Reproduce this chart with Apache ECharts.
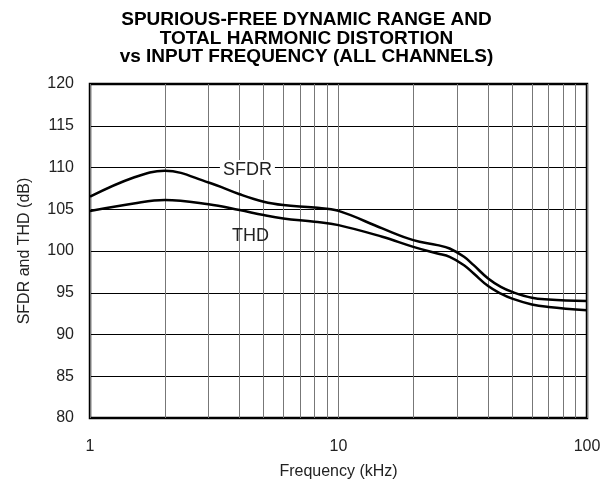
<!DOCTYPE html>
<html>
<head>
<meta charset="utf-8">
<script src="https://cdn.jsdelivr.net/npm/echarts@6/dist/echarts.min.js"></script>
<style>
  html, body { margin: 0; padding: 0; background: #fff; }
  #chart { width: 613px; height: 485px; }
</style>
</head>
<body>
<div id="chart"></div>
<script>
// frequency points (kHz)
const freq = [1, 1.5, 2, 3, 4, 5, 6, 8, 10, 15, 20, 25, 28, 32, 35, 40, 45, 50, 60, 70, 100];
const sfdr = [106.5, 108.8, 109.6, 108.2, 106.8, 105.9, 105.5, 105.2, 104.8, 102.7, 101.3, 100.7, 100.3, 99.3, 98.3, 96.7, 95.7, 95.1, 94.4, 94.2, 94.0];
const thd = [104.8, 105.7, 106.1, 105.6, 104.9, 104.3, 103.9, 103.5, 103.1, 101.7, 100.5, 99.7, 99.3, 98.3, 97.3, 95.8, 94.9, 94.3, 93.6, 93.3, 92.9];
// log-decade minor gridlines
const minorGrid = [2, 3, 4, 5, 6, 7, 8, 9, 20, 30, 40, 50, 60, 70, 80, 90];
const titleLines = ['SPURIOUS-FREE DYNAMIC RANGE AND', 'TOTAL HARMONIC DISTORTION', 'vs INPUT FREQUENCY (ALL CHANNELS)'];

const font = 'Liberation Sans, Arial, Helvetica, sans-serif';
const chart = echarts.init(document.getElementById('chart'));

const pairs = (ys) => freq.map((f, i) => [f, ys[i]]);

chart.setOption({
  animation: false,
  title: {
    text: titleLines.join('\n'),
    left: 'center',
    top: 6,
    textStyle: {
      fontFamily: font,
      fontSize: 19,
      fontWeight: 'bold',
      lineHeight: 18.5,
      color: '#000',
    },
  },
  grid: {
    left: 90,
    right: 26,
    top: 84,
    bottom: 66,
    show: true,
    borderColor: '#000',
    borderWidth: 2.5,
    backgroundColor: 'transparent',
  },
  xAxis: {
    type: 'log',
    logBase: 10,
    min: 1,
    max: 100,
    name: 'Frequency (kHz)',
    nameLocation: 'middle',
    nameGap: 46,
    nameTextStyle: { fontFamily: font, fontSize: 16, color: '#222' },
    axisLine: { show: false },
    axisTick: { show: false },
    axisLabel: { fontFamily: font, fontSize: 16, color: '#222', margin: 21 },
    splitLine: { show: true, lineStyle: { color: '#777', width: 1 } },
  },
  yAxis: {
    type: 'value',
    min: 80,
    max: 120,
    interval: 5,
    name: 'SFDR and THD (dB)',
    nameLocation: 'middle',
    nameGap: 57,
    nameTextStyle: { fontFamily: font, fontSize: 16, color: '#222' },
    axisLine: { show: false },
    axisTick: { show: false },
    axisLabel: { fontFamily: font, fontSize: 16, color: '#222', margin: 16 },
    splitLine: { show: true, lineStyle: { color: '#000', width: 1 } },
  },
  series: [
    {
      name: 'grid',
      type: 'line',
      data: [],
      silent: true,
      markLine: {
        silent: true,
        symbol: 'none',
        label: { show: false },
        lineStyle: { color: '#777', width: 1, type: 'solid' },
        data: minorGrid.map((v) => ({ xAxis: v })),
      },
    },
    {
      name: 'SFDR',
      type: 'line',
      data: pairs(sfdr),
      smooth: 0.4,
      symbol: 'none',
      lineStyle: { color: '#000', width: 2.5 },
      z: 5,
      markPoint: {
        symbol: 'rect',
        symbolSize: 0,
        data: [{ coord: [4.3, 109.7], value: 'SFDR' }],
        label: {
          show: true,
          formatter: 'SFDR',
          fontFamily: font,
          fontSize: 18,
          color: '#222',
          backgroundColor: '#fff',
          padding: [1, 3],
        },
      },
    },
    {
      name: 'THD',
      type: 'line',
      data: pairs(thd),
      smooth: 0.4,
      symbol: 'none',
      lineStyle: { color: '#000', width: 2.5 },
      z: 5,
      markPoint: {
        symbol: 'rect',
        symbolSize: 0,
        data: [{ coord: [4.3, 101.8], value: 'THD' }],
        label: {
          show: true,
          formatter: 'THD',
          fontFamily: font,
          fontSize: 18,
          color: '#222',
          offset: [3, 0],
        },
      },
    },
  ],
});
</script>
</body>
</html>
